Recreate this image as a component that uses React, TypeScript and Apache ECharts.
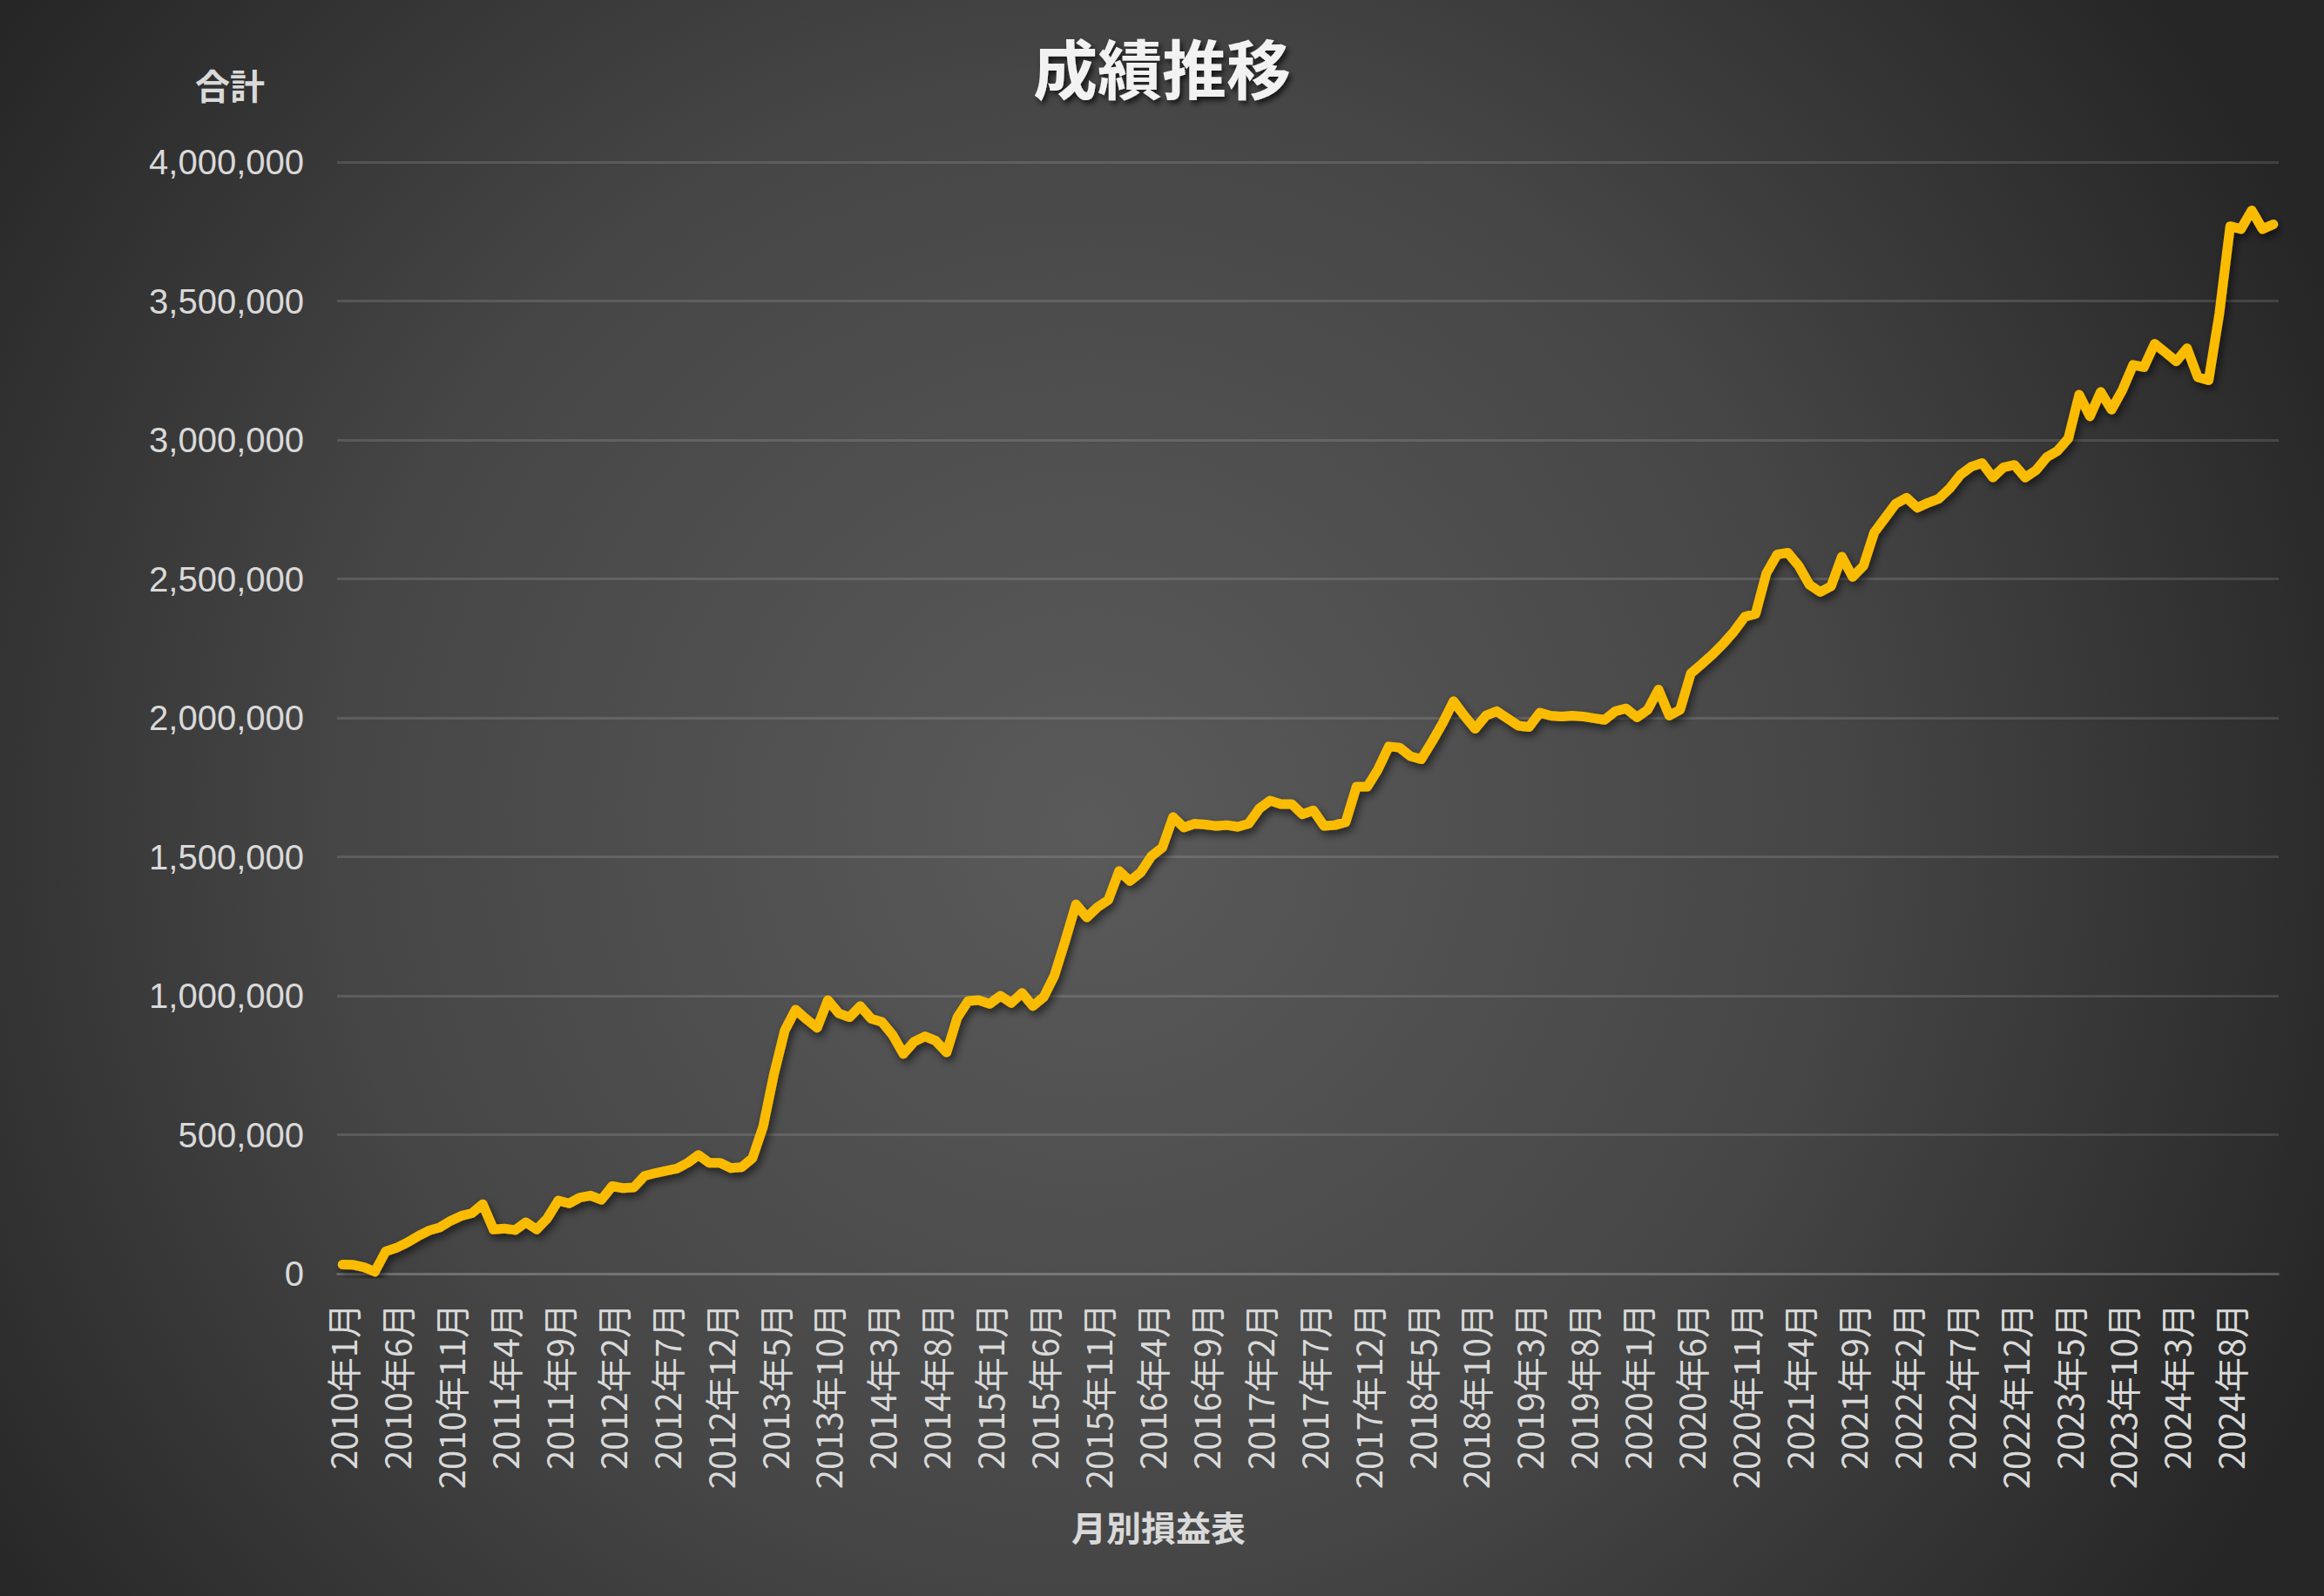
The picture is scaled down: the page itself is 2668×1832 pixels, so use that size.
import React, { useEffect, useRef } from "react";
import * as echarts from "echarts";

const TITLE = "成績推移";
const Y_NAME = "合計";
const X_NAME = "月別損益表";

const START_YEAR = 2010;
const END_YEAR = 2024;

const categories: string[] = [];
for (let y = START_YEAR; y <= END_YEAR; y++) {
  for (let m = 1; m <= 12; m++) categories.push(`${y}年${m}月`);
}

// 2010 - 2012
const values2010_2012 = [
  33000, 32000, 23000, 7000, 80000, 93000, 112000, 135000, 155000, 166000, 190000, 208000,
  218000, 250000, 159000, 162000, 157000, 185000, 159000, 200000, 263000, 253000, 274000, 281000,
  266000, 315000, 308000, 310000, 352000, 362000, 370000, 378000, 399000, 427000, 399000, 399000,
];
// 2013 - 2015
const values2013_2015 = [
  380000, 383000, 415000, 530000, 718000, 875000, 950000, 916000, 885000, 984000, 937000, 923000,
  963000, 918000, 906000, 859000, 791000, 835000, 854000, 838000, 796000, 922000, 981000, 984000,
  971000, 1000000, 974000, 1010000, 963000, 995000, 1073000, 1198000, 1329000, 1282000, 1319000, 1345000,
];
// 2016 - 2018
const values2016_2018 = [
  1449000, 1413000, 1444000, 1503000, 1533000, 1643000, 1606000, 1619000, 1616000, 1611000, 1614000, 1608000,
  1619000, 1674000, 1702000, 1690000, 1690000, 1653000, 1667000, 1611000, 1614000, 1625000, 1752000, 1752000,
  1815000, 1897000, 1893000, 1862000, 1851000, 1914000, 1982000, 2060000, 2008000, 1961000, 2008000, 2024000,
];
// 2019 - 2021
const values2019_2021 = [
  1998000, 1972000, 1967000, 2019000, 2008000, 2005000, 2008000, 2005000, 1999000, 1993000, 2024000, 2034000,
  2002000, 2029000, 2102000, 2008000, 2029000, 2160000, 2193000, 2228000, 2267000, 2311000, 2364000, 2374000,
  2520000, 2588000, 2594000, 2547000, 2479000, 2453000, 2474000, 2580000, 2507000, 2547000, 2667000, 2719000,
];
// 2022 - 2024
const values2022_2024 = [
  2771000, 2792000, 2756000, 2774000, 2789000, 2826000, 2875000, 2904000, 2917000, 2865000, 2902000, 2910000,
  2865000, 2891000, 2938000, 2961000, 3006000, 3163000, 3085000, 3173000, 3109000, 3179000, 3270000, 3262000,
  3346000, 3315000, 3283000, 3330000, 3226000, 3215000, 3456000, 3769000, 3759000, 3826000, 3759000, 3776000,
];

const seriesValues = [
  ...values2010_2012,
  ...values2013_2015,
  ...values2016_2018,
  ...values2019_2021,
  ...values2022_2024,
];

const Y_MIN = 0;
const Y_MAX = 4000000;
const Y_INTERVAL = 500000;

const W = 2668;
const H = 1832;

export default function App() {
  const ref = useRef<HTMLDivElement>(null);

  useEffect(() => {
    document.body.style.margin = "0";
    document.body.style.overflow = "hidden";
    if (!ref.current) return;
    const chart = echarts.init(ref.current, undefined, { renderer: "svg" });
    chart.setOption({
      animation: false,
      backgroundColor: {
        type: "radial",
        x: 1250,
        y: 950,
        r: 1550,
        global: true,
        colorStops: [
          { offset: 0, color: "#5a5a5a" },
          { offset: 0.55, color: "#464646" },
          { offset: 1, color: "#262626" },
        ],
      },
      title: {
        text: TITLE,
        left: "center",
        top: 33,
        textStyle: {
          color: "#f2f2f2",
          fontSize: 74,
          fontWeight: "bold",
          fontFamily: "Noto Sans CJK JP",
          letterSpacing: 10,
          textShadowColor: "rgba(0,0,0,0.7)",
          textShadowBlur: 6,
          textShadowOffsetX: 3,
          textShadowOffsetY: 4,
        },
      },
      graphic: [
        {
          type: "text",
          x: W / 2 - 4,
          y: 1752,
          style: {
            text: X_NAME,
            fill: "#d9d9d9",
            fontSize: 40,
            fontWeight: "bold",
            fontFamily: "Noto Sans CJK JP",
            align: "center",
            verticalAlign: "middle",
          },
        },
      ],
      grid: { left: 387, right: 52, top: 186, bottom: 370, containLabel: false },
      xAxis: {
        type: "category",
        data: categories,
        boundaryGap: true,
        axisLine: { show: true, lineStyle: { color: "rgba(255,255,255,0.13)", width: 3 } },
        axisTick: { show: false },
        axisLabel: {
          interval: 4,
          rotate: 90,
          margin: 34,
          color: "#d9d9d9",
          fontSize: 40,
          fontFamily: "Noto Sans CJK JP",
        },
        splitLine: { show: false },
      },
      yAxis: {
        type: "value",
        min: Y_MIN,
        max: Y_MAX,
        interval: Y_INTERVAL,
        name: Y_NAME,
        nameLocation: "end",
        nameGap: 69,
        nameTextStyle: {
          color: "#d9d9d9",
          fontSize: 40,
          fontWeight: "bold",
          fontFamily: "Noto Sans CJK JP",
          align: "right",
          verticalAlign: "bottom",
          padding: [0, 83, 0, 0],
        },
        axisLine: { show: false },
        axisTick: { show: false },
        axisLabel: {
          margin: 38,
          color: "#d9d9d9",
          fontSize: 40,
          fontFamily: "Liberation Sans, Noto Sans CJK JP",
          formatter: (v: number) => v.toLocaleString("en-US"),
        },
        splitLine: { lineStyle: { color: "rgba(255,255,255,0.13)", width: 3 } },
      },
      series: [
        {
          type: "line",
          data: seriesValues,
          symbol: "none",
          smooth: false,
          lineStyle: {
            color: "#FBBC00",
            width: 11,
            cap: "round",
            join: "round",
            shadowColor: "rgba(0,0,0,0.55)",
            shadowBlur: 10,
            shadowOffsetX: 3,
            shadowOffsetY: 5,
          },
        },
      ],
    });
    return () => chart.dispose();
  }, []);

  return <div ref={ref} style={{ width: W, height: H }} />;
}
